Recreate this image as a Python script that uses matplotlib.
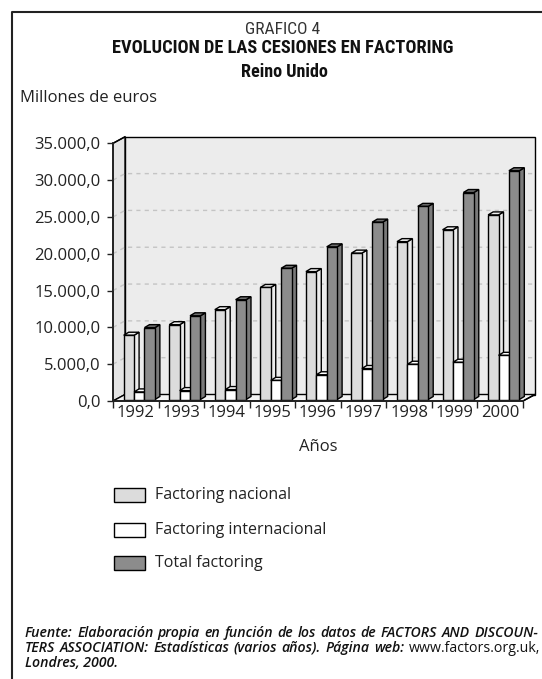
import matplotlib
matplotlib.use("Agg")
import matplotlib.pyplot as plt
from matplotlib.patches import Rectangle, Polygon
from matplotlib.lines import Line2D

# data (millones de euros)
years = ['1992', '1993', '1994', '1995', '1996', '1997', '1998', '1999', '2000']
nacional = [8730, 10160, 12200, 15220, 17370, 19880, 21440, 23050, 25070]
internacional = [1030, 1210, 1350, 2600, 3360, 4210, 4790, 5060, 6000]
total = [9760, 11370, 13550, 17820, 20730, 24090, 26230, 28110, 31070]
series_names = ['Factoring nacional', 'Factoring internacional', 'Total factoring']
yticks = [0, 5000, 10000, 15000, 20000, 25000, 30000, 35000]

W, H = 542, 679
fig = plt.figure(figsize=(W / 100, H / 100), dpi=100)
fig.patch.set_facecolor('white')
r = fig.canvas.get_renderer()

def fx(p):
    return p / W

def fy(p):
    return 1 - p / H

# front plane of the pseudo 3d chart
left, right, bottom, top = 113, 523, 401, 143.3
ax = fig.add_axes([fx(left), fy(bottom), (right - left) / W, (bottom - top) / H])
ax.set_xlim(0, 9)
ax.set_ylim(0, 35000)
ax.patch.set_visible(False)

ux = (right - left) / 9.0          # pixels per category
uy = 35000 / (bottom - top)        # value units per pixel
def px(p):
    return p / ux
def py(p):
    return p * uy

DX, DY = px(12), py(6.5)           # wall depth
SX, SY = px(3.5), py(1.5)          # bar front shift
BX, BY = px(5), py(3)              # bar depth
bw = px(10.4)

kw = dict(clip_on=False, lw=1, ec='black')

# back wall, side wall, floor
ax.add_patch(Rectangle((DX, DY), 9, 35000, fc='#ececec', zorder=0.1, **kw))
ax.add_patch(Polygon([(0, 0), (0, 35000), (DX, 35000 + DY), (DX, DY)],
                     fc='#e4e4e4', zorder=0.1, **kw))
ax.add_patch(Polygon([(0, 0), (9, 0), (9 + DX, DY), (DX, DY)],
                     fc='#f4f4f4', zorder=0.2, **kw))

for v in yticks[1:-1]:
    ax.add_line(Line2D([0, DX, 9 + DX], [v, v + DY, v + DY], color='#c4c4c4',
                       lw=1, ls=(0, (3, 3)), zorder=0.3, clip_on=False))

colors = [('#dcdcdc', '#ececec', '#efefef'),
          ('#ffffff', '#ffffff', '#ffffff'),
          ('#8c8c8c', '#7a7a7a', '#6e6e6e')]

def bar3d(x0, h, cols, z):
    x0 = x0 + SX
    y0 = SY
    ax.add_patch(Polygon([(x0 + bw, y0), (x0 + bw + BX, y0 + BY),
                          (x0 + bw + BX, y0 + h + BY), (x0 + bw, y0 + h)],
                         fc=cols[1], zorder=z, **kw))
    ax.add_patch(Polygon([(x0, y0 + h), (x0 + BX, y0 + h + BY),
                          (x0 + bw + BX, y0 + h + BY), (x0 + bw, y0 + h)],
                         fc=cols[2], zorder=z, **kw))
    ax.add_patch(Rectangle((x0, y0), bw, h, fc=cols[0], zorder=z, **kw))

for i in range(len(years)):
    for j, vals in enumerate([nacional, internacional, total]):
        x0 = i + 0.5 - 1.5 * bw + j * bw
        bar3d(x0, vals[i], colors[j], 1 + i * 0.01 + j * 0.001)

# edges of the box
ax.add_line(Line2D([0, DX], [35000, 35000 + DY], color='black', lw=1, clip_on=False, zorder=3))
ax.add_line(Line2D([9, 9 + DX], [0, DY], color='black', lw=1, clip_on=False, zorder=3))

for s in ['top', 'right']:
    ax.spines[s].set_visible(False)
for s in ['left', 'bottom']:
    ax.spines[s].set_color('#222222')
    ax.spines[s].set_linewidth(1.3)
    ax.spines[s].set_zorder(3)

font = 'Open Sans'
ax.set_yticks(yticks)
ax.set_yticklabels([f"{v:,.1f}".replace(',', 'X').replace('.', ',').replace('X', '.') for v in yticks])
ax.tick_params(axis='y', length=4, width=1, pad=5, labelsize=12, colors='#222222')
ax.set_xticks(range(10))
ax.set_xticklabels([])
ax.tick_params(axis='x', which='major', length=5, width=1, color='#222222')
ax.set_xticks([i + 0.5 for i in range(9)], minor=True)
ax.set_xticklabels(years, minor=True)
ax.tick_params(axis='x', which='minor', length=0, pad=3, labelsize=12, colors='#222222')
for lab in ax.get_xticklabels(minor=True) + ax.get_yticklabels():
    lab.set_family(font)

# titles, sized to the width they have in the chart
narrow = ['Liberation Sans Narrow', 'Roboto Condensed', 'Roboto', 'DejaVu Sans']

def fitted(x, y, s, width, **k):
    t = fig.text(fx(x), fy(y), s, ha='center', va='center', family=narrow, fontsize=13, **k)
    w = t.get_window_extent(renderer=r).width
    t.set_fontsize(13 * width / w)
    return t

fitted(283, 29, 'GRAFICO 4', 75, color='#333333')
fitted(283, 48, 'EVOLUCION DE LAS CESIONES EN FACTORING', 340, fontweight='bold', color='#111111')
fitted(284, 72, 'Reino Unido', 87, fontweight='bold', color='#111111')

fig.text(fx(20), fy(98), 'Millones de euros', ha='left', va='center',
         family=font, fontsize=12, color='#222222')
fig.text(fx(318), fy(447), 'Años', ha='center', va='center',
         family=font, fontsize=12, color='#222222')

# legend
leg_y = [495, 530, 563]
for (name, cols, yy) in zip(series_names, colors, leg_y):
    fig.add_artist(Rectangle((fx(114), fy(yy + 7)), 31 / W, 14 / H, transform=fig.transFigure,
                             fc=cols[0], ec='black', lw=1))
    fig.text(fx(155), fy(yy), name, ha='left', va='center', family=font,
             fontsize=11.5, color='#222222')

# frame
fig.add_artist(Line2D([fx(11.5), fx(11.5), 1.0], [0.0, fy(11.5), fy(11.5)],
                      transform=fig.transFigure, color='#222222', lw=1.5))

# footnote (justified lines)
line1 = "Fuente: Elaboración propia en función de los datos de FACTORS AND DISCOUN-"
line2 = "TERS ASSOCIATION: Estadísticas (varios años). Página web:"
line3 = "Londres, 2000."

probe = fig.text(0, 0, line1, family=font, fontsize=10, fontstyle='italic', fontweight='semibold')
fsize = 10 * 505 / probe.get_window_extent(renderer=r).width
probe.remove()
fkw = dict(family=font, fontsize=fsize, color='#111111', va='center', ha='left')

def justified(words, yy, x0, x1):
    ts = []
    for w, st in words:
        if st == 'i':
            ts.append(fig.text(0, fy(yy), w, fontstyle='italic', fontweight='semibold', **fkw))
        else:
            ts.append(fig.text(0, fy(yy), w, **fkw))
    widths = [t.get_window_extent(renderer=r).width for t in ts]
    gap = (x1 - x0 - sum(widths)) / (len(ts) - 1)
    x = x0
    for t, w in zip(ts, widths):
        t.set_x(fx(x))
        x += w + gap

justified([(w, 'i') for w in line1.split()], 633, 25, 538)
justified([(w, 'i') for w in line2.split()] + [('www.factors.org.uk,', 'n')], 648, 25, 540)
fig.text(fx(25), fy(663), line3, fontstyle='italic', fontweight='semibold', **fkw)

fig.savefig('out.png', dpi=100)
